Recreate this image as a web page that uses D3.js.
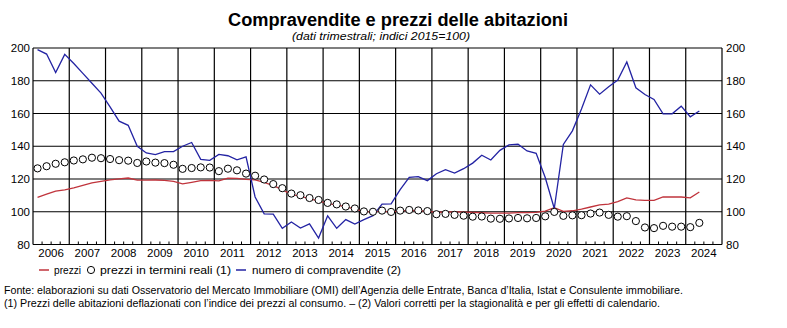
<!DOCTYPE html>
<html><head><meta charset="utf-8">
<script src="https://cdn.jsdelivr.net/npm/d3@7/dist/d3.min.js"></script>
<style>
body{margin:0;background:#fff}
svg{display:block;font-family:"Liberation Sans",Arial,Helvetica,sans-serif}
</style>
</head><body>
<svg id="chart" width="787" height="328"></svg>
<script>
// ---- data (quarterly, 2006Q1 - 2024Q2; indices 2015=100) ----
const yearLabels = ["2006","2007","2008","2009","2010","2011","2012","2013","2014","2015",
  "2016","2017","2018","2019","2020","2021","2022","2023","2024"];
const firstYear = 2006;
const yTicks = [80,100,120,140,160,180,200];

const prezzi = [
  108.8,110.7,112.6,113.4, 114.6,116.1,117.6,118.5, 119.5,120.1,120.6,119.3,
  119.3,119.4,119.2,118.5, 117.0,118.0,119.0,119.1, 118.9,120.5,120.4,119.8,
  119.5,118.0,116.0,113.5, 110.5,109.5,107.8,106.7, 105.0,104.2,103.0,101.8,
  100.1,99.9,100.4,99.8, 100.5,100.9,100.7,100.3, 99.7,99.8,99.9,99.8,
  99.6,99.4,99.1,99.1, 99.1,99.5,99.5,99.6, 100.4,102.5,100.2,100.6,
  101.6,102.9,104.2,104.7, 106.2,108.5,107.3,107.0, 107.0,109.0,109.0,109.0,
  108.5,112.1
];
const prezziReali = [
  126.5,127.8,129.3,130.2, 131.3,132.0,133.0,132.7, 132.2,131.5,131.2,129.8,
  130.7,130.0,129.7,128.7, 126.2,126.7,127.1,127.0, 124.8,126.3,125.3,123.3,
  122.0,119.7,116.9,114.4, 111.1,110.1,108.4,107.2, 105.4,104.5,103.2,102.0,
  100.2,100.0,100.7,99.9, 100.7,101.1,100.8,100.4, 98.5,98.7,98.1,97.6,
  97.0,97.1,95.8,95.7, 95.9,96.2,96.0,96.2, 97.2,99.9,97.5,97.8,
  97.9,98.9,99.5,98.1, 97.0,97.3,94.3,90.4, 90.0,91.4,90.9,90.9,
  90.6,93.2
];
const compravendite = [
  199.0,196.3,185.0,196.1, 190.5,184.5,178.5,172.5, 164.0,155.3,152.8,140.0,
  135.9,134.9,136.7,136.7, 140.0,142.3,132.0,131.4, 135.0,134.2,131.7,133.5,
  109.0,98.7,98.5,89.9, 93.7,90.0,92.6,83.9, 97.5,89.9,95.2,92.5,
  95.2,97.6,104.6,104.8, 113.5,121.0,121.4,119.0, 123.2,125.7,123.6,126.3,
  129.7,134.5,131.6,137.5, 140.8,141.2,137.1,135.7, 120.9,102.0,141.1,149.4,
  162.8,177.5,171.8,176.3, 180.4,191.5,175.7,171.6, 168.6,159.8,159.8,164.5,
  158.0,161.5
];

const legendItems = [
  {label:"prezzi", type:"line", color:"#c0343c"},
  {label:"prezzi in termini reali (1)", type:"circle", color:"#000"},
  {label:"numero di compravendite (2)", type:"line", color:"#2323a3"}
];
const title = "Compravendite e prezzi delle abitazioni";
const subtitle = "(dati trimestrali; indici 2015=100)";
const note1 = "Fonte: elaborazioni su dati Osservatorio del Mercato Immobiliare (OMI) dell\u2019Agenzia delle Entrate, Banca d\u2019Italia, Istat e Consulente immobiliare.";
const note2 = "(1) Prezzi delle abitazioni deflazionati con l\u2019indice dei prezzi al consumo. \u2013 (2) Valori corretti per la stagionalit\u00e0 e per gli effetti di calendario.";

// ---- layout ----
const svg = d3.select("#chart");
const L = 33, R = 722, T = 48, B = 244.5;
const x = d3.scaleLinear().domain([firstYear, firstYear + yearLabels.length]).range([L, R]);
const y = d3.scaleLinear().domain([80, 200]).range([B, T]);
const qx = i => x(firstYear + (i + 0.5) / 4);

function fit(sel, w) {
  const n = sel.node();
  const cur = n.getComputedTextLength();
  if (Math.abs(cur - w) > 1) sel.attr("textLength", w).attr("lengthAdjust", "spacingAndGlyphs");
}

// grid
const g = svg.append("g");
g.selectAll("line.h").data(yTicks).join("line")
  .attr("x1", L).attr("x2", R).attr("y1", d => y(d)).attr("y2", d => y(d))
  .attr("stroke", "#000").attr("stroke-width", 1.2);
g.selectAll("line.v").data(d3.range(0, yearLabels.length + 1)).join("line")
  .attr("x1", d => x(firstYear + d)).attr("x2", d => x(firstYear + d))
  .attr("y1", T).attr("y2", B)
  .attr("stroke", "#000").attr("stroke-width", 1.2);
// quarter ticks
const qt = [];
yearLabels.forEach((_, i) => { [1,2,3].forEach(q => qt.push(firstYear + i + q / 4)); });
g.selectAll("line.q").data(qt).join("line")
  .attr("x1", d => x(d)).attr("x2", d => x(d)).attr("y1", B).attr("y2", B - 3)
  .attr("stroke", "#000").attr("stroke-width", 1);

// axes labels
const lab = svg.append("g").attr("font-size", 11.5).attr("fill", "#000");
lab.selectAll("text.yl").data(yTicks).join("text")
  .attr("x", 30).attr("y", d => y(d) + 4).attr("text-anchor", "end").text(d => d);
lab.selectAll("text.yr").data(yTicks).join("text")
  .attr("x", 726).attr("y", d => y(d) + 4).attr("text-anchor", "start").text(d => d);
lab.selectAll("text.x").data(yearLabels).join("text")
  .attr("x", (d, i) => x(firstYear + i + 0.5)).attr("y", 256.5)
  .attr("text-anchor", "middle").text(d => d);

// series
const line = d3.line().x((d, i) => qx(i)).y(d => y(d));
svg.append("path").datum(prezzi).attr("d", line)
  .attr("fill", "none").attr("stroke", legendItems[0].color).attr("stroke-width", 1.3);
svg.append("path").datum(compravendite).attr("d", line)
  .attr("fill", "none").attr("stroke", legendItems[2].color).attr("stroke-width", 1.3);
svg.append("g").selectAll("circle").data(prezziReali).join("circle")
  .attr("cx", (d, i) => qx(i)).attr("cy", d => y(d)).attr("r", 3.6)
  .attr("fill", "#fff").attr("stroke", "#000").attr("stroke-width", 1);

// title
const t1 = svg.append("text").attr("x", 398).attr("y", 26).attr("text-anchor", "middle")
  .attr("font-size", 18).attr("font-weight", "bold").text(title);
fit(t1, 340);
const t2 = svg.append("text").attr("x", 381).attr("y", 40).attr("text-anchor", "middle")
  .attr("font-size", 11.5).attr("font-style", "italic").text(subtitle);
fit(t2, 178);

// legend
const lg = svg.append("g").attr("font-size", 11);
const legPos = [{sx:39, tx:54, tw:27}, {sx:91, tx:100, tw:131}, {sx:236, tx:252, tw:149}];
legendItems.forEach((it, i) => {
  const p = legPos[i];
  if (it.type === "line") {
    lg.append("line").attr("x1", p.sx).attr("x2", p.sx + 10).attr("y1", 270).attr("y2", 270)
      .attr("stroke", it.color).attr("stroke-width", 1.5);
  } else {
    lg.append("circle").attr("cx", p.sx).attr("cy", 270).attr("r", 3.6)
      .attr("fill", "#fff").attr("stroke", "#000");
  }
  const tt = lg.append("text").attr("x", p.tx).attr("y", 274).text(it.label);
  fit(tt, p.tw);
});

// notes
const n1 = svg.append("text").attr("x", 4).attr("y", 294).attr("font-size", 10.5).text(note1);
fit(n1, 679);
const n2 = svg.append("text").attr("x", 4).attr("y", 307).attr("font-size", 10.5).text(note2);
fit(n2, 656);
</script>
</body></html>
